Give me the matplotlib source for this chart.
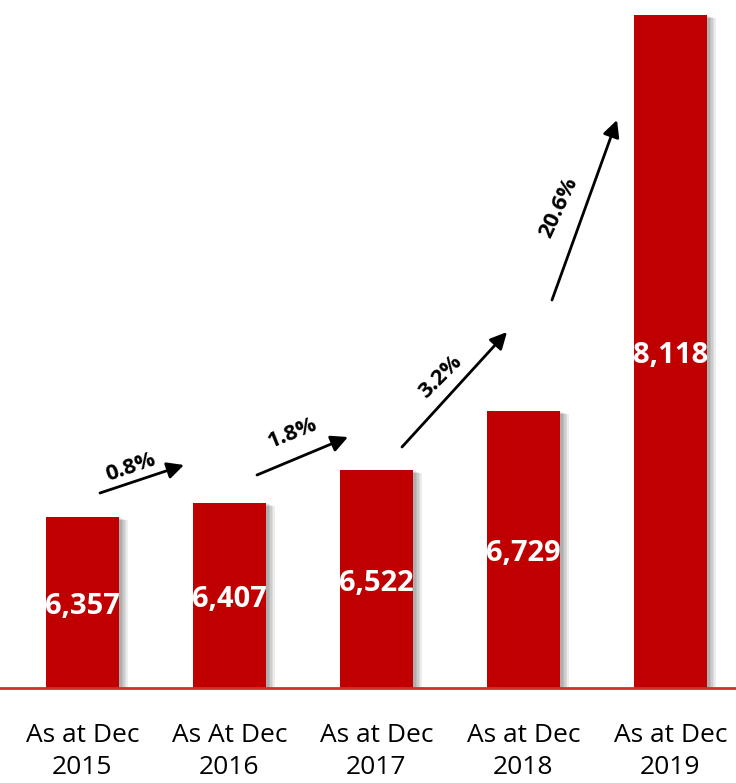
import matplotlib
matplotlib.use("Agg")
import matplotlib.pyplot as plt
import matplotlib.patheffects as pe

# Data
categories = ["As at Dec\n2015", "As At Dec\n2016", "As at Dec\n2017", "As at Dec\n2018", "As at Dec\n2019"]
values = [6357, 6407, 6522, 6729, 8118]
growth_labels = ["0.8%", "1.8%", "3.2%", "20.6%"]

BAR_COLOR = "#C00000"
AXIS_COLOR = "#D62B2B"
Y_MIN, Y_MAX = 5757, 8171

fig = plt.figure(figsize=(7.36, 7.83), dpi=100)
ax = fig.add_axes([0.0, 95 / 783, 1.0, 688 / 783])

x = list(range(len(values)))
bars = ax.bar(x, values, width=0.5, color=BAR_COLOR, zorder=3)

# soft shadow to the right of each bar
shadow = [pe.SimplePatchShadow(offset=(k, -k * 0.4), shadow_rgbFace="black", alpha=0.07)
          for k in (6, 5, 4, 3, 2)]
for b in bars:
    b.set_path_effects(shadow + [pe.Normal()])

ax.set_xlim(-0.561, 4.446)
ax.set_ylim(Y_MIN, Y_MAX)

# value labels centred in each bar
for xi, v in zip(x, values):
    ax.annotate(f"{v:,}", xy=(xi, (Y_MIN + v) / 2), xytext=(0, -3), textcoords="offset points",
                ha="center", va="center", color="white", fontsize=21,
                fontweight="bold", family="Open Sans", zorder=5)

# growth arrows between bars (pixel-derived positions in axes fractions)
W, H = 736.0, 688.0
arrows = [((100, 493), (184, 465), (131, 467), 19),
          ((257, 475), (348, 437), (293, 433), 22),
          ((402, 447), (507, 332), (440, 377), 45),
          ((552, 300), (617, 120), (559, 208), 65)]
for (tail, head, lab, ang), txt in zip(arrows, growth_labels):
    ax.annotate("", xy=(head[0] / W, 1 - head[1] / H), xytext=(tail[0] / W, 1 - tail[1] / H),
                xycoords="axes fraction", textcoords="axes fraction",
                arrowprops=dict(arrowstyle="-|>,head_length=1.0,head_width=0.5",
                                color="black", lw=2, shrinkA=0, shrinkB=0), zorder=6)
    ax.text(lab[0] / W, 1 - lab[1] / H, txt, transform=ax.transAxes, rotation=ang,
            ha="center", va="center", fontsize=16, fontweight="bold",
            family="Open Sans", rotation_mode="anchor", zorder=6)

ax.set_xticks(x)
ax.set_xticklabels(categories, fontsize=19, family="Open Sans", linespacing=1.4)
ax.tick_params(axis="x", length=0, pad=25)
ax.set_yticks([])
for s in ("top", "left", "right"):
    ax.spines[s].set_visible(False)
ax.spines["bottom"].set_color(AXIS_COLOR)
ax.spines["bottom"].set_linewidth(2)
ax.spines["bottom"].set_zorder(4)

fig.savefig("out.png", dpi=100)
